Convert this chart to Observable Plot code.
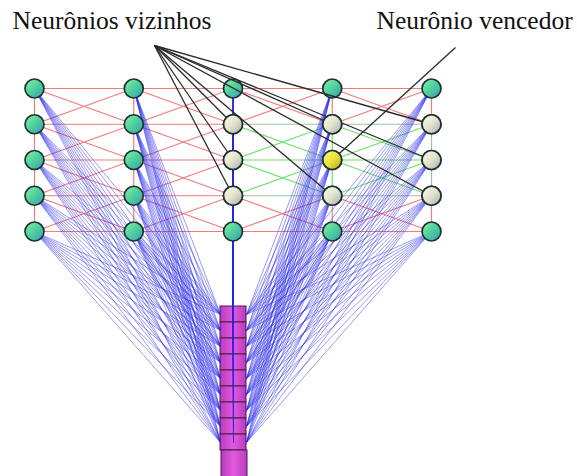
<!DOCTYPE html>
<html><head><meta charset="utf-8">
<script src="https://cdn.jsdelivr.net/npm/d3@7"></script>
<script src="https://cdn.jsdelivr.net/npm/@observablehq/plot@0.6"></script>
<style>html,body{margin:0;padding:0;background:#fff} svg{display:block}</style>
</head><body><div id="chart"></div>
<script>
// ---- data ----
const gridCols = [0, 1, 2, 3, 4];
const gridRows = [0, 1, 2, 3, 4];
const winnerCol = 3;
const winnerRow = 2;
const neighborhoodRadius = 1;
const inputUnits = [0, 1, 2, 3, 4, 5, 6, 7, 8];
const baseUnits = [0];
const labelTexts = ["Neurônios vizinhos", "Neurônio vencedor"];

// ---- layout ----
const W = 577, H = 476;
const colX0 = 34, colDX = 99.25, rowY0 = 88, rowDY = 35.75;
const colLeft = 220, colRight = 246, inputTop = 306, inputCellH = 16, baseH = 30;
const colCenter = (colLeft + colRight) / 2;
const nodeR = 9.5;
const anchorNeighbors = [154, 45], anchorWinner = [455, 47];
const labelPos = [[12, 28], [376, 28]];

const cx = c => colX0 + c * colDX;
const ry = r => rowY0 + r * rowDY;
const kindOf = (c, r) =>
  (c === winnerCol && r === winnerRow) ? "winner" :
  (Math.abs(c - winnerCol) <= neighborhoodRadius && Math.abs(r - winnerRow) <= neighborhoodRadius) ? "neighbor" : "normal";

const nodes = gridCols.flatMap(c => gridRows.map(r => ({c, r, x: cx(c), y: ry(r), kind: kindOf(c, r)})));
const nodeAt = (c, r) => nodes.find(n => n.c === c && n.r === r);

const edges = [];
for (const n of nodes) {
  if (n.c < gridCols.length - 1) {
    for (const dr of [-1, 0, 1]) {
      const m = nodeAt(n.c + 1, n.r + dr);
      if (m) edges.push({a: n, b: m, type: dr === 0 ? "h" : "d"});
    }
  }
  if (n.r < gridRows.length - 1) edges.push({a: n, b: nodeAt(n.c, n.r + 1), type: "v"});
}
const edgeColor = e => {
  const inA = e.a.kind !== "normal", inB = e.b.kind !== "normal";
  if (!(inA && inB)) return "#f27c7c";
  const boundary = (e.type === "h" && e.a.r !== winnerRow) || (e.type === "v" && e.a.c !== winnerCol);
  return boundary ? "#9cc49c" : "#6fe06f";
};

const inputCells = inputUnits.map(i => ({y1: inputTop + i * inputCellH, y2: inputTop + (i + 1) * inputCellH}));
const baseTop = inputTop + inputUnits.length * inputCellH;
const baseCells = baseUnits.map(i => ({y1: baseTop + i * baseH, y2: baseTop + (i + 1) * baseH}));

const weights = nodes.flatMap(n => inputUnits.map(i => ({
  x1: n.x, y1: n.y,
  x2: n.c < 2 ? colLeft : n.c > 2 ? colRight : colCenter,
  y2: inputTop + (i + 0.5) * inputCellH
})));

const hood = nodes.filter(n => n.kind !== "normal");
const pointerLines = [
  ...hood.filter(n => n.kind === "neighbor").map(n => ({x1: anchorNeighbors[0], y1: anchorNeighbors[1], x2: n.x, y2: n.y})),
  ...hood.filter(n => n.kind === "winner").map(n => ({x1: anchorWinner[0], y1: anchorWinner[1], x2: n.x, y2: n.y}))
];
const labels = labelTexts.map((t, i) => ({text: t, x: labelPos[i][0], y: labelPos[i][1]}));
const fillOf = n => n.kind === "winner" ? "url(#gWin)" : n.kind === "neighbor" ? "url(#gNb)" : "url(#gNode)";

const chart = Plot.plot({
  width: W, height: H,
  margin: 0,
  x: {domain: [0, W], range: [0, W], axis: null},
  y: {domain: [0, H], range: [0, H], axis: null},
  style: {background: "#fff", overflow: "hidden"},
  marks: [
    Plot.link(edges, {x1: e => e.a.x, y1: e => e.a.y, x2: e => e.b.x, y2: e => e.b.y, stroke: edgeColor, strokeWidth: 1.2}),
    Plot.rect(inputCells, {x1: colLeft, x2: colRight, y1: "y1", y2: "y2", fill: "url(#gInput)", stroke: "#4a1a4a", strokeWidth: 1}),
    Plot.rect(baseCells, {x1: colLeft + 1, x2: colRight + 1, y1: "y1", y2: "y2", fill: "url(#gInput)", stroke: "#4a1a4a", strokeWidth: 1}),
    Plot.link(weights, {x1: "x1", y1: "y1", x2: "x2", y2: "y2", stroke: "#2626ee", strokeOpacity: 0.55, strokeWidth: 0.85}),
    Plot.dot(nodes, {x: "x", y: "y", r: nodeR, fill: fillOf, stroke: "#1a3330", strokeWidth: 1.7}),
    Plot.link(pointerLines, {x1: "x1", y1: "y1", x2: "x2", y2: "y2", stroke: "#2a2a2a", strokeWidth: 1.3}),
    Plot.dot(hood, {x: "x", y: "y", r: nodeR, fill: fillOf, stroke: "#1a3330", strokeWidth: 1.7}),
    Plot.text(labels, {x: "x", y: "y", text: "text", textAnchor: "start", lineAnchor: "bottom", fontSize: 25.5, fontFamily: "Liberation Serif", fill: "#111"})
  ]
});

d3.select(chart).insert("defs", ":first-child").html(`
  <linearGradient id="gNode" x1="0" y1="0" x2="1" y2="1">
    <stop offset="0" stop-color="#8cf0a8"/><stop offset="0.45" stop-color="#52d49c"/><stop offset="1" stop-color="#3a9ab4"/>
  </linearGradient>
  <linearGradient id="gNb" x1="0" y1="0" x2="1" y2="1">
    <stop offset="0" stop-color="#fbfbec"/><stop offset="0.5" stop-color="#e4e4cc"/><stop offset="1" stop-color="#a4a8b4"/>
  </linearGradient>
  <linearGradient id="gWin" x1="0" y1="0" x2="1" y2="1">
    <stop offset="0" stop-color="#fbf78a"/><stop offset="0.5" stop-color="#efe23a"/><stop offset="1" stop-color="#b0a020"/>
  </linearGradient>
  <linearGradient id="gInput" x1="0" y1="0" x2="1" y2="0">
    <stop offset="0" stop-color="#b83cc0"/><stop offset="0.5" stop-color="#e25ada"/><stop offset="1" stop-color="#b83cc0"/>
  </linearGradient>`);

document.getElementById("chart").appendChild(chart);
</script>
</body></html>
